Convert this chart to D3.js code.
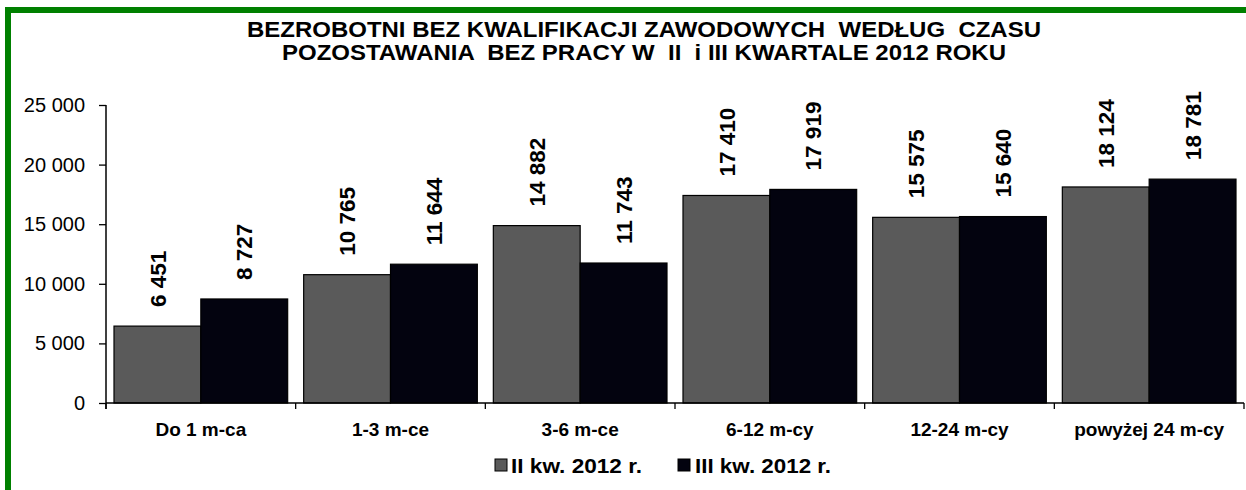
<!DOCTYPE html>
<html><head><meta charset="utf-8">
<script src="https://cdn.jsdelivr.net/npm/d3@7"></script>
<style>body{margin:0;background:#fff}svg{display:block}svg text{font-family:"Liberation Sans",Arial,sans-serif}</style>
</head><body><svg id="c" width="1246" height="490"></svg>
<script>
const categories = ["Do 1 m-ca","1-3 m-ce","3-6 m-ce","6-12 m-cy","12-24 m-cy","powyżej 24 m-cy"];
const seriesNames = ["II kw. 2012 r.","III kw. 2012 r."];
const seriesII = [6451,10765,14882,17410,15575,18124];
const seriesIII = [8727,11644,11743,17919,15640,18781];
const yTicks = [0,5000,10000,15000,20000,25000];
const yTickLabels = ["0","5 000","10 000","15 000","20 000","25 000"];
const titleLines = ["BEZROBOTNI BEZ KWALIFIKACJI ZAWODOWYCH  WEDŁUG  CZASU","POZOSTAWANIA  BEZ PRACY W  II  i III KWARTALE 2012 ROKU"];
const colors = ["#5a5a5a","#03030f"];

const svg = d3.select("#c");
svg.append("rect").attr("x",8).attr("y",10).attr("width",1300).attr("height",600)
  .attr("fill","none").attr("stroke","#008000").attr("stroke-width",6);

const tl = [{t:titleLines[0],y:37,len:794},{t:titleLines[1],y:60,len:724}];
svg.selectAll("text.title").data(tl).join("text").attr("class","title")
  .attr("x",644).attr("y",d=>d.y).attr("text-anchor","middle")
  .attr("font-size",21.5).attr("font-weight","bold")
  .attr("textLength",d=>d.len).attr("lengthAdjust","spacingAndGlyphs")
  .style("white-space","pre").text(d=>d.t);

const x0 = d3.scaleBand().domain(categories).range([106,1244]).padding(0);
const x1 = d3.scaleBand().domain([0,1]).range([8, x0.bandwidth()-8]).padding(0);
const y = d3.scaleLinear().domain([0,25000]).range([403,105]);

const yAxis = d3.axisLeft(y).tickValues(yTicks).tickSize(7).tickFormat((d,i)=>yTickLabels[i]);
const ga = svg.append("g").attr("transform","translate(106,0)").call(yAxis);
ga.attr("font-family",null);
ga.select(".domain").attr("stroke","#000").attr("stroke-width",1.5).attr("d","M0,105V409");
ga.selectAll(".tick line").attr("stroke","#000").attr("stroke-width",1.3);
ga.selectAll(".tick text").attr("font-size",20).attr("fill","#000").attr("x",-21);

const data = categories.map((c,i)=>({c, vals:[seriesII[i],seriesIII[i]]}));
const groups = svg.selectAll("g.grp").data(data).join("g").attr("class","grp")
  .attr("transform",d=>`translate(${x0(d.c)},0)`);
groups.selectAll("rect").data(d=>d.vals.map((v,k)=>({v,k}))).join("rect")
  .attr("x",d=>x1(d.k)).attr("width",x1.bandwidth())
  .attr("y",d=>y(d.v)).attr("height",d=>y(0)-y(d.v))
  .attr("fill",d=>colors[d.k]).attr("stroke","#000").attr("stroke-width",1.2);
const fmt = v => d3.format(",")(v).replace(",", " ");
groups.selectAll("text").data(d=>d.vals.map((v,k)=>({v,k}))).join("text")
  .attr("transform",d=>`translate(${x1(d.k)+x1.bandwidth()/2},${y(d.v)-19}) rotate(-90)`)
  .attr("dy","0.36em").attr("font-size",22.5).attr("font-weight","bold").attr("fill","#000")
  .text(d=>fmt(d.v));

const xa = svg.append("g");
xa.append("line").attr("x1",106).attr("x2",1244).attr("y1",403).attr("y2",403).attr("stroke","#000").attr("stroke-width",1.5);
const bounds = categories.map(c=>x0(c)).concat([x0.range()[1]]);
xa.selectAll("line.t").data(bounds).join("line").attr("class","t")
  .attr("x1",d=>d).attr("x2",d=>d).attr("y1",403).attr("y2",409).attr("stroke","#000").attr("stroke-width",1.3);
xa.selectAll("text").data(categories).join("text")
  .attr("x",d=>x0(d)+x0.bandwidth()/2).attr("y",436).attr("text-anchor","middle")
  .attr("font-size",19).attr("font-weight","bold").text(d=>d);

const lg = [{x:495,tx:511,len:131},{x:678,tx:695,len:136}];
const leg = svg.selectAll("g.leg").data(seriesNames).join("g").attr("class","leg");
leg.append("rect").attr("x",(d,i)=>lg[i].x).attr("y",459).attr("width",12).attr("height",12)
  .attr("fill",(d,i)=>colors[i]).attr("stroke","#000").attr("stroke-width",1);
leg.append("text").attr("x",(d,i)=>lg[i].tx).attr("y",473).attr("font-size",19.5).attr("font-weight","bold")
  .attr("textLength",(d,i)=>lg[i].len).attr("lengthAdjust","spacingAndGlyphs").text(d=>d);
</script></body></html>
